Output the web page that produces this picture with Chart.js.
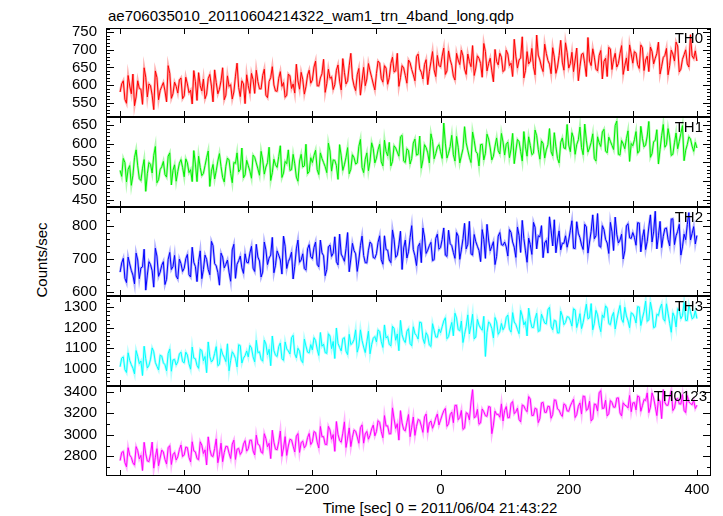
<!DOCTYPE html>
<html>
<head>
<meta charset="utf-8">
<script src="https://cdn.jsdelivr.net/npm/chart.js@4.4.0/dist/chart.umd.min.js"></script>
<style>
body { margin: 0; background: #fff; }
#wrap { position: relative; width: 723px; height: 516px; font-family: "Liberation Sans", Arial, sans-serif; color: #000; overflow: hidden; }
#wrap canvas { position: absolute; left: 0; }
.txt { position: absolute; font-size: 15px; line-height: 18px; white-space: nowrap; }
</style>
</head>
<body>
<div id="wrap">
  <div class="txt" style="left:108px; top:7px;">ae706035010_20110604214322_wam1_trn_4band_long.qdp</div>
  <div class="txt" style="left:42px; top:260px; transform: translate(-50%,-50%) rotate(-90deg);">Counts/sec</div>
  <div class="txt" style="left:440px; top:499px; transform: translateX(-50%);">Time [sec] 0 = 2011/06/04 21:43:22</div>
</div>
<script>
// time bins: -500 .. 400 s, 5 s per bin; the "b" arrays sit half a bin later
const tStart = -500
const tStep = 5

const xTicks = [-400, -200, 0, 200, 400]

const th0 = [
    580, 612, 548, 597, 631, 566, 590, 545, 622, 603, 571, 640, 558, 596, 583, 655, 562, 608, 577, 620,
    569, 603, 585, 641, 556, 598, 617, 574, 630, 552, 607, 588, 649, 571, 596, 560, 625, 593, 612, 547,
    598, 633, 576, 610, 589, 645, 564, 621, 600, 582, 638, 607, 571, 626, 603, 659, 588, 616, 595, 642,
    614, 668, 597, 632, 579, 645, 623, 601, 657, 586, 636, 612, 690, 598, 629, 571, 650, 617, 640, 603,
    633, 662, 608, 648, 621, 679, 640, 596, 655, 627, 671, 644, 612, 688, 636, 658, 601, 666, 643, 684,
    651, 705, 640, 672, 625, 690, 658, 683, 630, 667, 712, 648, 676, 622, 695, 661, 640, 701, 657, 679,
    643, 688, 662, 730, 648, 677, 620, 695, 667, 652, 742, 671, 638, 690, 659, 706, 633, 684, 665, 720,
    648, 693, 671, 612, 687, 660, 735, 655, 679, 640, 698, 667, 624, 702, 672, 651, 689, 630, 677, 714,
    662, 690, 647, 706, 671, 638, 695, 676, 722, 653, 684, 629, 699, 668, 711, 645, 686, 660, 743, 675,
    668
]
const th0b = [
    603, 559, 627, 575, 541, 612, 588, 649, 566, 598, 530, 621, 584, 607, 552, 633, 575, 596, 614, 561,
    622, 578, 546, 609, 635, 583, 561, 618, 597, 643, 575, 612, 558, 626, 601, 580, 662, 567, 603, 629,
    576, 615, 642, 589, 627, 571, 610, 652, 583, 619, 596, 565, 631, 590, 577, 612, 636, 574, 628, 605,
    651, 598, 620, 673, 604, 619, 587, 642, 611, 675, 603, 655, 620, 584, 647, 612, 598, 661, 622, 586,
    668, 619, 655, 602, 661, 637, 690, 621, 648, 605, 663, 629, 681, 646, 617, 672, 638, 695, 624, 656,
    682, 630, 697, 656, 614, 671, 699, 645, 688, 652, 627, 683, 661, 718, 640, 676, 609, 667, 690, 638,
    699, 655, 624, 682, 671, 737, 641, 660, 704, 629, 685, 651, 716, 670, 632, 679, 651, 727, 642, 692,
    661, 638, 705, 652, 690, 624, 668, 703, 645, 684, 617, 676, 707, 644, 690, 661, 712, 655, 640, 688,
    695, 658, 714, 641, 682, 708, 660, 690, 631, 678, 704, 655, 688, 722, 637, 673, 700, 651, 683, 697
]
const th0Ticks = [550, 600, 650, 700, 750]

const th1 = [
    528, 560, 497, 541, 515, 583, 506, 534, 472, 549, 521, 592, 503, 538, 517, 566, 489, 543, 525, 557,
    511, 548, 530, 581, 498, 536, 520, 562, 485, 544, 527, 573, 509, 539, 556, 495, 547, 524, 588, 516,
    541, 507, 563, 532, 579, 518, 549, 501, 558, 536, 594, 521, 546, 528, 571, 510, 553, 537, 598, 525,
    549, 582, 517, 560, 538, 601, 526, 555, 504, 567, 543, 589, 531, 562, 548, 611, 522, 575, 553, 586,
    561, 598, 540, 579, 603, 552, 588, 566, 622, 549, 581, 560, 612, 571, 534, 597, 575, 626, 559, 590,
    578, 655, 561, 592, 570, 619, 548, 586, 602, 563, 631, 579, 540, 598, 574, 612, 556, 593, 581, 627,
    569, 604, 585, 546, 611, 579, 632, 566, 595, 574, 621, 558, 600, 583, 640, 567, 592, 548, 615, 586,
    596, 629, 571, 610, 589, 652, 577, 603, 560, 618, 592, 638, 575, 606, 584, 660, 569, 599, 613, 552,
    594, 632, 580, 614, 596, 659, 573, 608, 545, 621, 590, 640, 568, 602, 586, 627, 554, 597, 612, 579,
    588
]
const th1b = [
    512, 549, 531, 488, 563, 540, 501, 557, 519, 544, 568, 495, 530, 552, 510, 575, 528, 499, 547, 536,
    559, 522, 498, 545, 566, 514, 541, 580, 526, 505, 553, 538, 497, 561, 520, 549, 575, 531, 508, 555,
    526, 569, 548, 515, 556, 537, 590, 522, 543, 565, 509, 552, 583, 530, 546, 499, 571, 540, 519, 562,
    568, 530, 575, 549, 522, 580, 556, 541, 597, 528, 563, 519, 570, 545, 592, 536, 558, 527, 602, 548,
    583, 551, 609, 567, 540, 594, 577, 618, 553, 586, 545, 601, 569, 620, 556, 589, 548, 606, 573, 597,
    560, 601, 574, 622, 553, 590, 567, 645, 582, 549, 608, 573, 597, 556, 625, 588, 566, 615, 572, 604,
    598, 562, 627, 580, 605, 553, 591, 618, 570, 636, 584, 607, 561, 597, 578, 629, 560, 603, 588, 651,
    578, 615, 597, 644, 570, 609, 588, 626, 553, 602, 631, 580, 617, 595, 648, 571, 608, 586, 634, 600,
    610, 574, 646, 591, 620, 563, 605, 637, 584, 651, 597, 615, 571, 628, 606, 648, 582, 618, 593, 603
]
const th1Ticks = [450, 500, 550, 600, 650]

const th2 = [
    660, 702, 628, 685, 651, 718, 640, 676, 605, 692, 664, 733, 647, 681, 622, 699, 668, 711, 639, 686,
    672, 714, 645, 690, 631, 725, 668, 699, 652, 741, 679, 620, 706, 684, 660, 728, 641, 695, 673, 716,
    688, 739, 662, 706, 645, 752, 683, 712, 658, 725, 697, 770, 671, 703, 639, 731, 690, 716, 666, 744,
    701, 752, 676, 719, 649, 737, 708, 768, 682, 715, 693, 781, 700, 726, 662, 741, 711, 688, 752, 705,
    716, 771, 684, 729, 697, 789, 705, 743, 668, 758, 722, 802, 710, 738, 689, 767, 727, 751, 698, 776,
    735, 795, 708, 747, 720, 781, 699, 762, 731, 815, 712, 753, 726, 790, 702, 758, 739, 683, 770, 744,
    752, 709, 781, 736, 798, 720, 763, 690, 744, 812, 731, 768, 704, 757, 829, 740, 719, 786, 748, 771,
    758, 817, 732, 779, 743, 806, 718, 785, 762, 839, 736, 790, 749, 812, 726, 776, 758, 700, 801, 765,
    781, 742, 810, 765, 729, 798, 752, 846, 771, 735, 793, 760, 822, 744, 785, 712, 776, 805, 758, 799,
    772
]
const th2b = [
    688, 641, 706, 665, 624, 697, 673, 730, 651, 683, 614, 709, 660, 692, 638, 720, 677, 648, 700, 662,
    701, 652, 736, 677, 693, 640, 712, 668, 754, 686, 659, 718, 673, 697, 632, 745, 684, 709, 656, 690,
    718, 672, 745, 694, 660, 728, 703, 766, 681, 712, 654, 739, 692, 721, 678, 758, 697, 671, 731, 707,
    735, 684, 758, 710, 668, 743, 718, 692, 776, 705, 732, 661, 748, 716, 697, 770, 689, 727, 745, 702,
    751, 698, 771, 727, 689, 760, 712, 785, 734, 703, 766, 729, 680, 748, 795, 717, 741, 695, 763, 730,
    760, 712, 788, 741, 702, 770, 728, 809, 745, 716, 775, 739, 692, 760, 806, 725, 753, 708, 781, 742,
    737, 790, 752, 705, 772, 818, 725, 764, 714, 797, 771, 802, 749, 718, 786, 820, 758, 728, 748, 736,
    788, 733, 814, 765, 729, 798, 752, 835, 771, 740, 802, 760, 717, 783, 828, 749, 776, 725, 808, 763,
    766, 811, 722, 790, 754, 835, 783, 731, 815, 769, 795, 740, 823, 771, 806, 737, 759, 842, 778, 746
]
const th2Ticks = [600, 700, 800]

const th3 = [
    1010, 1058, 982, 1041, 1003, 1089, 1025, 967, 1049, 1017, 1102, 1031, 994, 1062, 1020, 1075, 988, 1046, 1034, 1081,
    1029, 1067, 998, 1052, 1016, 1095, 1039, 981, 1060, 1044, 1108, 1022, 1071, 1035, 990, 1083, 1050, 1117, 1028, 1064,
    1058, 1102, 1034, 1079, 1046, 1140, 1068, 1015, 1089, 1060, 1126, 1041, 1097, 1072, 1163, 1053, 1086, 1030, 1111, 1077,
    1092, 1138, 1065, 1110, 1079, 1171, 1098, 1050, 1124, 1087, 1152, 1069, 1118, 1143, 1081, 1190, 1106, 1132, 1073, 1149,
    1131, 1182, 1104, 1150, 1119, 1207, 1139, 1088, 1166, 1128, 1196, 1112, 1172, 1145, 1225, 1123, 1161, 1109, 1188, 1154,
    1176, 1233, 1147, 1194, 1161, 1248, 1185, 1128, 1207, 1170, 1266, 1155, 1213, 1188, 1060, 1229, 1196, 1250, 1168, 1221,
    1205, 1262, 1179, 1228, 1192, 1285, 1214, 1160, 1239, 1201, 1271, 1186, 1245, 1219, 1300, 1190, 1233, 1175, 1258, 1226,
    1252, 1208, 1287, 1231, 1196, 1270, 1244, 1318, 1222, 1263, 1181, 1249, 1296, 1215, 1275, 1237, 1309, 1226, 1258, 1200,
    1268, 1223, 1301, 1247, 1330, 1239, 1282, 1205, 1260, 1316, 1232, 1271, 1178, 1254, 1293, 1244, 1324, 1236, 1279, 1250,
    1245
]
const th3b = [
    1052, 996, 1078, 1020, 975, 1061, 1038, 1110, 1004, 1047, 1083, 1012, 1066, 1029, 990, 1097, 1043, 1018, 1072, 1035,
    1081, 1024, 1106, 1049, 1002, 1089, 1060, 1131, 1033, 1075, 1015, 1098, 1056, 1122, 1040, 1070, 1009, 1113, 1052, 1087,
    1114, 1058, 1139, 1083, 1037, 1121, 1095, 1160, 1066, 1108, 1049, 1131, 1087, 1152, 1073, 1100, 1042, 1145, 1081, 1118,
    1152, 1096, 1177, 1120, 1075, 1160, 1133, 1199, 1104, 1147, 1086, 1168, 1125, 1190, 1111, 1139, 1079, 1183, 1118, 1157,
    1190, 1133, 1214, 1158, 1112, 1197, 1170, 1236, 1141, 1183, 1123, 1205, 1162, 1228, 1148, 1176, 1116, 1220, 1155, 1194,
    1205, 1249, 1157, 1226, 1271, 1191, 1233, 1168, 1263, 1212, 1146, 1241, 1198, 1256, 1177, 1219, 1150, 1229, 1182, 1190,
    1250, 1193, 1274, 1216, 1171, 1258, 1230, 1296, 1202, 1244, 1182, 1266, 1223, 1288, 1207, 1237, 1175, 1281, 1215, 1254,
    1235, 1293, 1201, 1269, 1226, 1315, 1249, 1190, 1285, 1212, 1263, 1307, 1221, 1256, 1194, 1277, 1242, 1300, 1234, 1273,
    1252, 1303, 1211, 1279, 1231, 1325, 1200, 1266, 1295, 1245, 1317, 1222, 1273, 1204, 1287, 1259, 1236, 1310, 1244, 1283
]
const th3Ticks = [1000, 1100, 1200, 1300]

const th0123 = [
    2760, 2845, 2702, 2811, 2739, 2890, 2776, 2668, 2823, 2751, 2932, 2790, 2712, 2858, 2771, 2880, 2724, 2836, 2795, 2905,
    2812, 2881, 2748, 2850, 2779, 2935, 2826, 2719, 2866, 2798, 2962, 2815, 2750, 2893, 2829, 2913, 2771, 2874, 2842, 2946,
    2870, 2950, 2812, 2912, 2840, 3010, 2888, 2779, 2930, 2861, 3035, 2877, 2808, 2958, 2894, 2987, 2836, 2941, 2903, 3012,
    2935, 3020, 2877, 2982, 2911, 3078, 2958, 2846, 3004, 2930, 3120, 2969, 2890, 3045, 2980, 3066, 2922, 3031, 2995, 3090,
    3030, 3115, 2972, 3082, 3008, 3250, 3058, 2950, 3109, 3036, 3188, 3070, 2994, 3142, 3081, 3166, 3021, 3128, 3099, 3193,
    3135, 3222, 3078, 3186, 3112, 3274, 3160, 3050, 3205, 3139, 3420, 3168, 3098, 3240, 3177, 3262, 3010, 3219, 3190, 3287,
    3225, 3158, 3289, 3196, 3247, 3120, 3268, 3214, 3332, 3180, 3239, 3151, 3301, 3207, 3262, 3188, 3320, 3229, 3170, 3276,
    3218, 3301, 3160, 3265, 3192, 3356, 3240, 3129, 3286, 3220, 3410, 3247, 3175, 3318, 3256, 3341, 3202, 3297, 3268, 3365,
    3296, 3231, 3352, 3270, 3318, 3205, 3389, 3262, 3331, 3150, 3302, 3274, 3410, 3248, 3337, 3285, 3226, 3364, 3290, 3321,
    3275
]
const th0123b = [
    2835, 2741, 2880, 2790, 2718, 2852, 2809, 2930, 2756, 2822, 2690, 2871, 2784, 2840, 2728, 2899, 2815, 2766, 2862, 2797,
    2886, 2790, 2935, 2841, 2768, 2903, 2860, 2981, 2806, 2873, 2740, 2922, 2835, 2891, 2779, 2950, 2866, 2817, 2913, 2848,
    2949, 2850, 2996, 2902, 2828, 2964, 2921, 3042, 2866, 2934, 2800, 2983, 2896, 2952, 2840, 3011, 2927, 2878, 2974, 2909,
    3030, 2932, 3077, 2983, 2909, 3045, 3002, 3123, 2948, 3015, 2882, 3064, 2977, 3033, 2921, 3092, 3008, 2959, 3055, 2990,
    3131, 3030, 3178, 3083, 3010, 3146, 3103, 3224, 3048, 3116, 2982, 3165, 3078, 3134, 3022, 3193, 3109, 3060, 3156, 3091,
    3183, 3245, 3102, 3211, 3273, 3140, 3226, 3062, 3196, 3304, 3158, 3236, 3110, 3214, 3171, 3258, 3090, 3189, 3163, 3128,
    3262, 3160, 3309, 3214, 3141, 3277, 3234, 3355, 3179, 3247, 3113, 3296, 3209, 3265, 3153, 3324, 3240, 3191, 3287, 3222,
    3268, 3330, 3187, 3296, 3359, 3226, 3312, 3148, 3281, 3390, 3244, 3321, 3195, 3300, 3256, 3343, 3175, 3275, 3249, 3214,
    3299, 3361, 3218, 3327, 3389, 3256, 3342, 3178, 3312, 3420, 3274, 3352, 3225, 3331, 3287, 3374, 3206, 3305, 3279, 3244
]
const th0123Ticks = [2800, 3000, 3200, 3400]

const panels = [
    { name: 'TH0', values: th0, half: th0b, ticks: th0Ticks, color: '#ff0000', halo: 'rgba(255,0,0,0.3)', min: 509, max: 762, minor: 10, top: 28, bottom: 117, labelRight: 20 },
    { name: 'TH1', values: th1, half: th1b, ticks: th1Ticks, color: '#00f000', halo: 'rgba(0,240,0,0.3)', min: 430, max: 671, minor: 10, top: 117, bottom: 207, labelRight: 20 },
    { name: 'TH2', values: th2, half: th2b, ticks: th2Ticks, color: '#0000ff', halo: 'rgba(0,0,255,0.3)', min: 587, max: 859, minor: 20, top: 207, bottom: 296, labelRight: 20 },
    { name: 'TH3', values: th3, half: th3b, ticks: th3Ticks, color: '#00ffff', halo: 'rgba(0,255,255,0.3)', min: 916, max: 1355, minor: 20, top: 296, bottom: 386, labelRight: 20 },
    { name: 'TH0123', values: th0123, half: th0123b, ticks: th0123Ticks, color: '#ff00ff', halo: 'rgba(255,0,255,0.3)', min: 2617, max: 3453, minor: 100, top: 386, bottom: 476, labelRight: 16 }
]

const X_MIN = -522, X_MAX = 422
const MARGIN = 10
const tickFont = { family: '"Liberation Sans", Arial, sans-serif', size: 15 }

// frame with inward ticks on all four sides
const framePlugin = {
    id: 'frame',
    afterDraw(chart) {
        const { ctx, chartArea: a, scales: { x, y } } = chart
        const p = chart.options.plugins.frame
        ctx.save()
        ctx.strokeStyle = '#000'
        ctx.lineWidth = 1
        ctx.strokeRect(a.left + 0.5, a.top + 0.5, a.right - a.left - 1, a.bottom - a.top - 1)
        ctx.beginPath()
        for (let t = -500; t <= 400; t += 100) {
            const px = Math.round(x.getPixelForValue(t)) + 0.5
            ctx.moveTo(px, a.top); ctx.lineTo(px, a.top + 6)
            ctx.moveTo(px, a.bottom); ctx.lineTo(px, a.bottom - 6)
        }
        const start = Math.ceil(y.min / p.minor) * p.minor
        for (let v = start; v <= y.max; v += p.minor) {
            const py = Math.round(y.getPixelForValue(v)) + 0.5
            const len = p.ticks.includes(v) ? 8 : 4
            ctx.moveTo(a.left, py); ctx.lineTo(a.left + len, py)
            ctx.moveTo(a.right, py); ctx.lineTo(a.right - len, py)
        }
        ctx.stroke()
        ctx.restore()
    }
}

const wrap = document.getElementById('wrap')

panels.forEach((pn, idx) => {
    const isLast = idx === panels.length - 1
    const canvas = document.createElement('canvas')
    const h = isLast ? (516 - (pn.top - MARGIN)) : (pn.bottom - pn.top + 2 * MARGIN)
    canvas.width = 723
    canvas.height = h
    canvas.style.top = (pn.top - MARGIN) + 'px'
    canvas.style.width = '723px'
    canvas.style.height = h + 'px'
    wrap.appendChild(canvas)

    const label = document.createElement('div')
    label.className = 'txt'
    label.style.right = pn.labelRight + 'px'
    label.style.top = (pn.top + 1) + 'px'
    label.textContent = pn.name
    wrap.appendChild(label)

    const points = []
    pn.values.forEach((v, i) => {
        points.push({ x: tStart + i * tStep, y: v })
        if (i < pn.half.length) points.push({ x: tStart + (i + 0.5) * tStep, y: pn.half[i] })
    })

    new Chart(canvas, {
        type: 'line',
        data: {
            datasets: [{
                data: points,
                borderColor: pn.color,
                borderWidth: 1,
                pointRadius: 0,
                tension: 0,
                fill: false,
                order: 0
            }, {
                data: points,
                borderColor: pn.halo,
                borderWidth: 2.5,
                pointRadius: 0,
                tension: 0,
                fill: false,
                order: 1
            }]
        },
        options: {
            responsive: false,
            maintainAspectRatio: false,
            animation: false,
            events: [],
            layout: { padding: { left: 0, right: 12, top: MARGIN, bottom: isLast ? 0 : MARGIN } },
            plugins: {
                legend: { display: false },
                tooltip: { enabled: false },
                frame: { minor: pn.minor, ticks: pn.ticks }
            },
            scales: {
                x: {
                    type: 'linear',
                    min: X_MIN,
                    max: X_MAX,
                    display: isLast,
                    grid: { display: false, drawTicks: false },
                    border: { display: false },
                    ticks: {
                        color: '#000',
                        font: tickFont,
                        padding: 5,
                        maxRotation: 0,
                        autoSkip: false,
                        callback: v => v < 0 ? '\u2212' + Math.abs(v) : String(v)
                    },
                    afterBuildTicks: s => { s.ticks = xTicks.map(v => ({ value: v })) },
                    afterFit: s => { s.height = isLast ? 40 : 0; s.paddingLeft = 0; s.paddingRight = 0 }
                },
                y: {
                    min: pn.min,
                    max: pn.max,
                    grid: { display: false, drawTicks: false },
                    border: { display: false },
                    ticks: { color: '#000', font: tickFont, padding: 9, autoSkip: false, callback: v => String(v) },
                    afterBuildTicks: s => { s.ticks = pn.ticks.map(v => ({ value: v })) },
                    afterFit: s => { s.width = 106; s.paddingTop = 0; s.paddingBottom = 0 }
                }
            }
        },
        plugins: [framePlugin]
    })
})
</script>
</body>
</html>
